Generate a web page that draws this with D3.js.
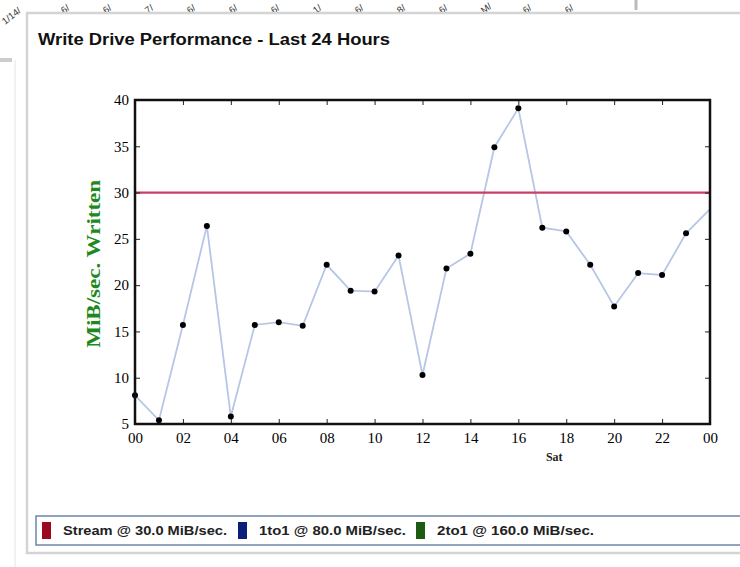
<!DOCTYPE html>
<html>
<head>
<meta charset="utf-8">
<script src="https://cdn.jsdelivr.net/npm/d3@7"></script>
<style>
  body { margin: 0; background: #fff; }
  svg { display: block; }
</style>
</head>
<body>
<div id="wrapper"></div>
<script>
// data
const hours = d3.range(0, 25)
const written = [8.1, 5.4, 15.7, 26.4, 5.8, 15.7, 16.0, 15.6, 22.2, 19.4, 19.3, 23.2, 10.3,
                 21.8, 23.4, 34.9, 39.1, 26.2, 25.8, 22.2, 17.7, 21.3, 21.1, 25.6, 28.2]
const streamLimit = 30
const yTicks = [5, 10, 15, 20, 25, 30, 35, 40]
const xTicks = [0, 2, 4, 6, 8, 10, 12, 14, 16, 18, 20, 22, 24]
const legendLabels = ["Stream @ 30.0 MiB/sec.", "1to1 @ 80.0 MiB/sec.", "2to1 @ 160.0 MiB/sec."]
const legendColors = ["#9b0a1c", "#0a1f7a", "#1d5a12"]
const topStrip = ["1/14/", "6/", "6/", "7/", "6/", "6/", "6/", "1/", "6/", "8/", "6/", "M/", "6/", "6/"]

const width = 740
const height = 567
let dimensions = {
  width: width,
  height: height,
  margin: { top: 100, right: 30, bottom: 143, left: 135 },
}
dimensions.boundedWidth = dimensions.width - dimensions.margin.left - dimensions.margin.right
dimensions.boundedHeight = dimensions.height - dimensions.margin.top - dimensions.margin.bottom

const svg = d3.select("#wrapper").append("svg")
  .attr("width", dimensions.width)
  .attr("height", dimensions.height)

// page chrome around the panel
const chrome = svg.append("g")
topStrip.forEach((t, i) => {
  chrome.append("text")
    .attr("transform", `translate(${i === 0 ? 5 : 22 + i * 42},${i === 0 ? 25 : 14}) rotate(-38)`)
    .attr("font-family", "Liberation Sans, Arial, sans-serif")
    .attr("font-size", 9.5)
    .attr("fill", "#333")
    .text(t)
})
chrome.append("line").attr("x1", 636).attr("x2", 636).attr("y1", 0).attr("y2", 10)
  .attr("stroke", "#bbb").attr("stroke-width", 3)
chrome.append("rect").attr("x", 0).attr("y", 58).attr("width", 12).attr("height", 4).attr("fill", "#ccc")
chrome.append("line").attr("x1", 15).attr("x2", 15).attr("y1", 60).attr("y2", 567)
  .attr("stroke", "#e4e4e4").attr("stroke-width", 1)
chrome.append("rect")
  .attr("x", 27).attr("y", 13).attr("width", 740).attr("height", 540)
  .attr("fill", "#fff").attr("stroke", "#d4d4d4").attr("stroke-width", 2.5)

svg.append("text")
  .attr("x", 38).attr("y", 45)
  .attr("font-family", "Liberation Sans, Arial, sans-serif")
  .attr("font-weight", "bold")
  .attr("font-size", 16)
  .attr("textLength", 352)
  .attr("lengthAdjust", "spacingAndGlyphs")
  .attr("fill", "#111")
  .text("Write Drive Performance - Last 24 Hours")

const bounds = svg.append("g")
  .attr("transform", `translate(${dimensions.margin.left},${dimensions.margin.top})`)

// scales
const xScale = d3.scaleLinear()
  .domain([0, 24])
  .range([0, dimensions.boundedWidth])
const yScale = d3.scaleLinear()
  .domain([5, 40])
  .range([dimensions.boundedHeight, 0])

// data
const lineGenerator = d3.line()
  .x((d, i) => xScale(hours[i]))
  .y(d => yScale(d))

bounds.append("path")
  .attr("d", lineGenerator(written))
  .attr("fill", "none")
  .attr("stroke", "#b7c6e6")
  .attr("stroke-width", 1.8)

bounds.append("line")
  .attr("x1", 0).attr("x2", dimensions.boundedWidth)
  .attr("y1", yScale(streamLimit)).attr("y2", yScale(streamLimit))
  .attr("stroke", "#cc3d68")
  .attr("stroke-width", 2.2)

bounds.selectAll(".dot")
  .data(written.slice(0, 24))
  .join("circle")
  .attr("class", "dot")
  .attr("cx", (d, i) => xScale(hours[i]))
  .attr("cy", d => yScale(d))
  .attr("r", 3)
  .attr("fill", "#000")

// axes (matplotlib-like inward ticks)
const fmtHour = d => d3.format("02")(d % 24)
const xAxisBottom = d3.axisBottom(xScale).tickValues(xTicks).tickSize(-5).tickPadding(8).tickFormat(fmtHour)
const xAxisTop = d3.axisTop(xScale).tickValues(xTicks).tickSize(-5).tickFormat("")
const yAxisLeft = d3.axisLeft(yScale).tickValues(yTicks).tickSize(-5).tickPadding(6)
const yAxisRight = d3.axisRight(yScale).tickValues(yTicks).tickSize(-5).tickFormat("")

const styleAxis = g => {
  g.select(".domain").remove()
  g.selectAll(".tick line").attr("stroke", "#222").attr("stroke-width", 1)
  g.selectAll(".tick text")
    .attr("font-family", "Liberation Serif, Times New Roman, serif")
    .attr("font-size", 15)
    .attr("fill", "#000")
}

bounds.append("g").attr("transform", `translate(0,${dimensions.boundedHeight})`).call(xAxisBottom).call(styleAxis)
bounds.append("g").call(xAxisTop).call(styleAxis)
bounds.append("g").call(yAxisLeft).call(styleAxis)
bounds.append("g").attr("transform", `translate(${dimensions.boundedWidth},0)`).call(yAxisRight).call(styleAxis)

bounds.append("rect")
  .attr("width", dimensions.boundedWidth)
  .attr("height", dimensions.boundedHeight)
  .attr("fill", "none")
  .attr("stroke", "#111")
  .attr("stroke-width", 2.5)

bounds.append("text")
  .attr("x", xScale(17.5))
  .attr("y", dimensions.boundedHeight + 37)
  .attr("text-anchor", "middle")
  .attr("font-family", "Liberation Serif, Times New Roman, serif")
  .attr("font-weight", "bold")
  .attr("font-size", 12)
  .attr("fill", "#222")
  .text("Sat")

bounds.append("text")
  .attr("transform", `translate(${-35},${yScale(22.3)}) rotate(-90)`)
  .attr("text-anchor", "middle")
  .attr("font-family", "Liberation Serif, Times New Roman, serif")
  .attr("font-weight", "bold")
  .attr("font-size", 18)
  .attr("textLength", 168)
  .attr("lengthAdjust", "spacingAndGlyphs")
  .attr("fill", "#1e8a1e")
  .text("MiB/sec.  Written")

// legend
const legend = svg.append("g")
legend.append("rect")
  .attr("x", 36).attr("y", 516).attr("width", 720).attr("height", 29)
  .attr("fill", "#fff").attr("stroke", "#6f86a6").attr("stroke-width", 1.5)

const legendX = [42, 238, 416]
const legendTextLen = [164, 147, 157]
legendLabels.forEach((label, i) => {
  legend.append("rect")
    .attr("x", legendX[i]).attr("y", 522).attr("width", 9).attr("height", 17)
    .attr("fill", legendColors[i])
  legend.append("text")
    .attr("x", legendX[i] + 21).attr("y", 535)
    .attr("font-family", "Liberation Sans, Arial, sans-serif")
    .attr("font-weight", "bold")
    .attr("font-size", 12)
    .attr("textLength", legendTextLen[i])
    .attr("lengthAdjust", "spacingAndGlyphs")
    .attr("fill", "#222")
    .text(label)
})
</script>
</body>
</html>
